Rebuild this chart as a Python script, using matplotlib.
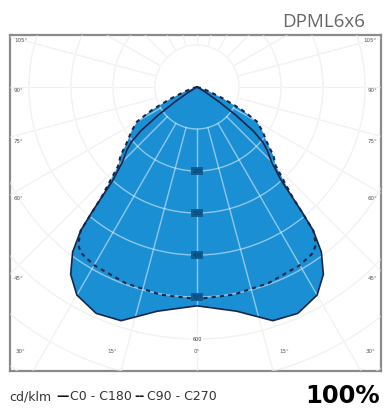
import numpy as np
import matplotlib.pyplot as plt
from matplotlib import font_manager

# luminous intensity, cd/klm (angle from nadir, degrees)
angles_c0 = [0, 10, 18, 24, 30, 34, 37, 39, 40, 41, 42, 45, 48, 50, 52, 54, 56, 58, 62, 90]
c0_c180 = [521, 542, 585, 590, 572, 538, 492, 440, 390, 340, 300, 250, 225, 205, 170, 115, 65, 28, 5, 0]

angles_c90 = [0, 10, 20, 30, 35, 37, 39, 41, 43, 45, 48, 52, 56, 60, 63, 66, 70, 75, 80, 90]
c90_c270 = [505, 502, 497, 490, 482, 470, 440, 345, 300, 265, 245, 210, 188, 165, 120, 70, 30, 8, 0, 0]

ring_values = [200, 300, 400, 500, 600]
side_labels = ["105°", "90°", "75°", "60°", "45°"]
side_angles = [105, 90, 75, 60, 45]
bottom_labels = ["30°", "15°", "0°", "15°", "30°"]

title = "DPML6x6"
unit = "cd/klm"
legend_c0 = "C0 - C180"
legend_c90 = "C90 - C270"
efficiency = "100%"

fill_col = "#1b8fd4"
edge_col = "#16264a"


def to_xy(angles, vals):
    a = np.radians(np.r_[-np.array(angles)[::-1], np.array(angles)[1:]])
    r = np.r_[np.array(vals)[::-1], np.array(vals)[1:]]
    return r * np.sin(a), -r * np.cos(a)


W, H = 388, 410
fig = plt.figure(figsize=(W / 100, H / 100), dpi=100)
# box in pixels: x 10..381, y 36..372; origin at (197, 88), 42 px per 100 cd/klm
px = 0.42
ox, oy = 197, 88
bl, br, bt, bb = 10, 381, 36, 372
ax = fig.add_axes([bl / W, (H - bb) / H, (br - bl) / W, (bb - bt) / H])
ax.set_xlim((bl - ox) / px, (br - ox) / px)
ax.set_ylim(-(bb - oy) / px, (oy - bt) / px)
ax.set_aspect("auto")
ax.set_xticks([])
ax.set_yticks([])
for s in ax.spines.values():
    s.set_color("#8a8a8a")
    s.set_linewidth(1.6)

t = np.linspace(0, 2 * np.pi, 400)
rmax = 1100


def grid(color, lw, z, alpha=1.0):
    for r in range(100, 1100, 100):
        ax.plot(r * np.cos(t), r * np.sin(t), color=color, lw=lw, zorder=z, alpha=alpha)
    for d in range(0, 360, 15):
        a = np.radians(d)
        ax.plot([100 * np.sin(a), rmax * np.sin(a)], [-100 * np.cos(a), -rmax * np.cos(a)],
                color=color, lw=lw, zorder=z, alpha=alpha)


grid("#e4e4e4", 0.8, 1)

x0, y0 = to_xy(angles_c0, c0_c180)
x9, y9 = to_xy(angles_c90, c90_c270)
ax.fill(x0, y0, color=fill_col, zorder=2, lw=0)
ax.fill(x9, y9, color=fill_col, zorder=2, lw=0)

grid("white", 1.0, 3, alpha=0.5)

ax.plot(x0, y0, color=edge_col, lw=1.2, zorder=4)
ax.plot(x9, y9, color=edge_col, lw=1.5, ls=(0, (2, 2)), zorder=4)

for v in ring_values:
    inside = v < 520
    ax.text(0, -v, str(v), fontsize=3.5, ha="center", va="center",
            color="#0b3d66" if inside else "#333333", zorder=5,
            bbox=dict(boxstyle="square,pad=0.25", fc="#0d5d96" if inside else "white", ec="none"))

# angle labels on the frame
for lab, d in zip(side_labels, side_angles):
    y_px = oy + (ox - bl) / np.tan(np.radians(d))
    fig.text(14 / W, 1 - (y_px + 3) / H, lab, fontsize=4, color="#555555", ha="left", va="center")
    fig.text(377 / W, 1 - (y_px + 3) / H, lab, fontsize=4, color="#555555", ha="right", va="center")
for lab, xp in zip(bottom_labels, [20, 112, 197, 284, 370]):
    fig.text(xp / W, 1 - 352 / H, lab, fontsize=4, color="#555555", ha="center", va="center")

fig.text(365 / W, 1 - 22 / H, title, fontsize=13.5, color="#666666", ha="right", va="center",
         family="Open Sans")

# legend row, pieces laid out one after another
names = {f.name for f in font_manager.fontManager.ttflist}
narrow = "Liberation Sans Narrow" if "Liberation Sans Narrow" in names else "DejaVu Sans"
pieces = [(unit, "normal", "#333333", 5), ("\u2014", "bold", "#111111", 2),
          (legend_c0, "normal", "#333333", 2), ("--", "bold", "#111111", 2),
          (legend_c90, "normal", "#333333", 0)]
size = 11 if narrow != "DejaVu Sans" else 9
renderer = fig.canvas.get_renderer()
xpos = 9
for txt, wt, col, gap in pieces:
    tt = fig.text(xpos / W, 1 - 397 / H, txt, fontsize=size, color=col, weight=wt,
                  ha="left", va="center", family=narrow)
    xpos += tt.get_window_extent(renderer).width + gap

fig.text(380 / W, 1 - 396 / H, efficiency, fontsize=17.5, color="black", ha="right", va="center",
         family="DejaVu Sans", weight="bold")

fig.savefig("out.png", dpi=100)
